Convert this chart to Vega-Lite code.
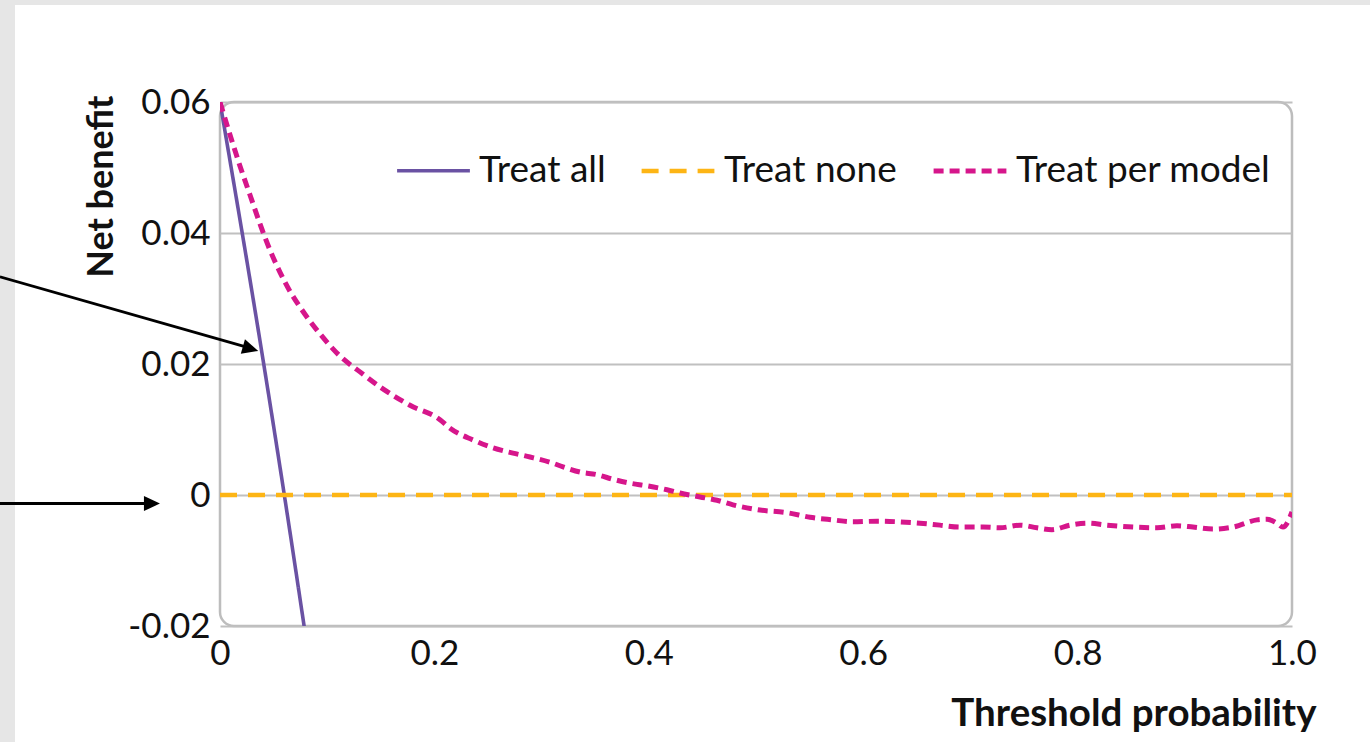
{
  "$schema": "https://vega.github.io/schema/vega-lite/v6.json",
  "width": 1072,
  "height": 524,
  "autosize": {"type": "none"},
  "padding": {"left": 220, "top": 102, "right": 78, "bottom": 116},
  "background": "white",
  "config": {
    "font": "Lato",
    "view": {"stroke": "#bdbdbd", "strokeWidth": 2.5, "cornerRadius": 14},
    "legend": {
      "orient": "none", "legendX": 175, "legendY": 30, "direction": "horizontal",
      "symbolType": "stroke", "symbolSize": 5300, "labelFontSize": 37, "labelFont": "Lato",
      "labelColor": "#111111", "labelOffset": 7, "columnPadding": 26, "labelLimit": 600, "padding": 0
    }
  },
  "datasets": {
    "series": [
      {"series": "Treat all", "p": 0, "nb": 0.06},
      {"series": "Treat all", "p": 0.04, "nb": 0.0208},
      {"series": "Treat all", "p": 0.06, "nb": 0},
      {"series": "Treat all", "p": 0.08, "nb": -0.0217},
      {"series": "Treat none", "p": 0, "nb": 0},
      {"series": "Treat none", "p": 1, "nb": 0},
      {"series": "Treat per model", "p": 0, "nb": 0.06},
      {"series": "Treat per model", "p": 0.0093, "nb": 0.055},
      {"series": "Treat per model", "p": 0.0187, "nb": 0.0502},
      {"series": "Treat per model", "p": 0.028, "nb": 0.0458},
      {"series": "Treat per model", "p": 0.0373, "nb": 0.0414},
      {"series": "Treat per model", "p": 0.0466, "nb": 0.0374},
      {"series": "Treat per model", "p": 0.056, "nb": 0.0340},
      {"series": "Treat per model", "p": 0.0653, "nb": 0.0311},
      {"series": "Treat per model", "p": 0.0746, "nb": 0.0287},
      {"series": "Treat per model", "p": 0.0933, "nb": 0.0246},
      {"series": "Treat per model", "p": 0.112, "nb": 0.0212},
      {"series": "Treat per model", "p": 0.1306, "nb": 0.0188},
      {"series": "Treat per model", "p": 0.1493, "nb": 0.0165},
      {"series": "Treat per model", "p": 0.1772, "nb": 0.0137},
      {"series": "Treat per model", "p": 0.2052, "nb": 0.0115},
      {"series": "Treat per model", "p": 0.2146, "nb": 0.0102},
      {"series": "Treat per model", "p": 0.236, "nb": 0.0084},
      {"series": "Treat per model", "p": 0.2547, "nb": 0.0072},
      {"series": "Treat per model", "p": 0.2733, "nb": 0.0064},
      {"series": "Treat per model", "p": 0.2892, "nb": 0.0058},
      {"series": "Treat per model", "p": 0.3078, "nb": 0.005},
      {"series": "Treat per model", "p": 0.32, "nb": 0.0043},
      {"series": "Treat per model", "p": 0.3358, "nb": 0.0035},
      {"series": "Treat per model", "p": 0.3517, "nb": 0.0031},
      {"series": "Treat per model", "p": 0.3666, "nb": 0.0024},
      {"series": "Treat per model", "p": 0.3825, "nb": 0.0018},
      {"series": "Treat per model", "p": 0.3983, "nb": 0.0014},
      {"series": "Treat per model", "p": 0.417, "nb": 0.0008},
      {"series": "Treat per model", "p": 0.4291, "nb": 0.0003},
      {"series": "Treat per model", "p": 0.4478, "nb": -0.0003},
      {"series": "Treat per model", "p": 0.4636, "nb": -0.0008},
      {"series": "Treat per model", "p": 0.4785, "nb": -0.0015},
      {"series": "Treat per model", "p": 0.5037, "nb": -0.0023},
      {"series": "Treat per model", "p": 0.5289, "nb": -0.0027},
      {"series": "Treat per model", "p": 0.5504, "nb": -0.0034},
      {"series": "Treat per model", "p": 0.5718, "nb": -0.0038},
      {"series": "Treat per model", "p": 0.5905, "nb": -0.0041},
      {"series": "Treat per model", "p": 0.6129, "nb": -0.004},
      {"series": "Treat per model", "p": 0.6343, "nb": -0.0041},
      {"series": "Treat per model", "p": 0.653, "nb": -0.0043},
      {"series": "Treat per model", "p": 0.6716, "nb": -0.0046},
      {"series": "Treat per model", "p": 0.6903, "nb": -0.0049},
      {"series": "Treat per model", "p": 0.7118, "nb": -0.0049},
      {"series": "Treat per model", "p": 0.7276, "nb": -0.005},
      {"series": "Treat per model", "p": 0.7463, "nb": -0.0046},
      {"series": "Treat per model", "p": 0.7621, "nb": -0.005},
      {"series": "Treat per model", "p": 0.7761, "nb": -0.0053},
      {"series": "Treat per model", "p": 0.7929, "nb": -0.0046},
      {"series": "Treat per model", "p": 0.8088, "nb": -0.0043},
      {"series": "Treat per model", "p": 0.8274, "nb": -0.0046},
      {"series": "Treat per model", "p": 0.8517, "nb": -0.0049},
      {"series": "Treat per model", "p": 0.8741, "nb": -0.005},
      {"series": "Treat per model", "p": 0.8927, "nb": -0.0047},
      {"series": "Treat per model", "p": 0.9076, "nb": -0.0049},
      {"series": "Treat per model", "p": 0.9263, "nb": -0.0052},
      {"series": "Treat per model", "p": 0.945, "nb": -0.0049},
      {"series": "Treat per model", "p": 0.9674, "nb": -0.0038},
      {"series": "Treat per model", "p": 0.9767, "nb": -0.0037},
      {"series": "Treat per model", "p": 0.986, "nb": -0.0043},
      {"series": "Treat per model", "p": 0.9916, "nb": -0.0049},
      {"series": "Treat per model", "p": 1.0, "nb": -0.0026}
    ],
    "one": [{}]
  },
  "layer": [
    {
      "data": {"name": "series"},
      "mark": {"type": "line", "clip": true, "interpolate": "monotone", "strokeCap": "butt"},
      "encoding": {
        "x": {
          "field": "p", "type": "quantitative",
          "scale": {"domain": [0, 1], "nice": false, "zero": false},
          "axis": {
            "title": "Threshold probability", "values": [0, 0.2, 0.4, 0.6, 0.8, 1],
            "labelExpr": "datum.value == 0 ? '0' : format(datum.value, '.1f')",
            "grid": false, "domain": false, "ticks": false,
            "labelFont": "Lato", "labelFontSize": 35, "labelColor": "#111111", "labelPadding": 10,
            "labelFlush": false,
            "titleFont": "Lato", "titleFontSize": 38.5, "titleFontWeight": "bold", "titleColor": "#111111",
            "titleAlign": "right", "titleBaseline": "alphabetic",
            "titleX": 1096, "titleY": 99
          }
        },
        "y": {
          "field": "nb", "type": "quantitative",
          "scale": {"domain": [-0.02, 0.06], "nice": false, "zero": false},
          "axis": {
            "title": "Net benefit", "values": [-0.02, 0, 0.02, 0.04, 0.06],
            "labelExpr": "datum.value == 0 ? '0' : (datum.value < 0 ? '-' + format(-datum.value, '.2f') : format(datum.value, '.2f'))",
            "grid": true, "gridColor": "#c0c0c0", "gridWidth": 2.2,
            "domain": false, "ticks": false,
            "labelFont": "Lato", "labelFontSize": 35, "labelColor": "#111111", "labelPadding": 10,
            "labelFlush": false,
            "titleFont": "Lato", "titleFontSize": 36, "titleFontWeight": "bold", "titleColor": "#111111",
            "titleAngle": -90, "titleAlign": "right", "titleBaseline": "middle",
            "titleX": -119, "titleY": -7
          }
        },
        "color": {
          "field": "series", "type": "nominal", "title": null,
          "scale": {"domain": ["Treat all", "Treat none", "Treat per model"], "range": ["#6a52a3", "#fdb515", "#d6168b"]}
        },
        "strokeDash": {
          "field": "series", "type": "nominal", "title": null,
          "scale": {"domain": ["Treat all", "Treat none", "Treat per model"], "range": [[1, 0], [17, 11], [10, 6]]}
        },
        "strokeWidth": {
          "field": "series", "type": "nominal", "title": null,
          "scale": {"domain": ["Treat all", "Treat none", "Treat per model"], "range": [3.6, 5, 5.5]}
        }
      }
    },
    {
      "data": {"name": "one"},
      "mark": {"type": "rect", "fill": "#e6e6e6", "clip": false},
      "encoding": {
        "x": {"datum": -0.2053, "type": "quantitative", "scale": {"domain": [0, 1], "nice": false, "zero": false}},
        "x2": {"datum": -0.1912},
        "y": {"datum": 0.0756, "type": "quantitative", "scale": {"domain": [-0.02, 0.06], "nice": false, "zero": false}},
        "y2": {"datum": -0.0378}
      }
    },
    {
      "data": {"name": "one"},
      "mark": {"type": "rect", "fill": "#e6e6e6", "clip": false},
      "encoding": {
        "x": {"datum": -0.2053, "type": "quantitative", "scale": {"domain": [0, 1], "nice": false, "zero": false}},
        "x2": {"datum": 1.0728},
        "y": {"datum": 0.0756, "type": "quantitative", "scale": {"domain": [-0.02, 0.06], "nice": false, "zero": false}},
        "y2": {"datum": 0.0748}
      }
    },
    {
      "data": {"name": "one"},
      "mark": {"type": "rule", "color": "black", "strokeWidth": 2.8, "clip": false},
      "encoding": {
        "x": {"datum": -0.2053, "type": "quantitative", "scale": {"domain": [0, 1], "nice": false, "zero": false}},
        "x2": {"datum": 0.0265},
        "y": {"datum": 0.0333, "type": "quantitative", "scale": {"domain": [-0.02, 0.06], "nice": false, "zero": false}},
        "y2": {"datum": 0.0225}
      }
    },
    {
      "data": {"name": "one"},
      "mark": {"type": "point", "shape": "M0,0L-1,-0.47L-1,0.47Z", "filled": true, "size": 1024, "angle": 16, "color": "black", "opacity": 1, "clip": false},
      "encoding": {
        "x": {"datum": 0.0357, "type": "quantitative", "scale": {"domain": [0, 1], "nice": false, "zero": false}},
        "y": {"datum": 0.0220, "type": "quantitative", "scale": {"domain": [-0.02, 0.06], "nice": false, "zero": false}}
      }
    },
    {
      "data": {"name": "one"},
      "mark": {"type": "rule", "color": "black", "strokeWidth": 2.8, "clip": false},
      "encoding": {
        "x": {"datum": -0.2053, "type": "quantitative", "scale": {"domain": [0, 1], "nice": false, "zero": false}},
        "x2": {"datum": -0.0653},
        "y": {"datum": -0.0013, "type": "quantitative", "scale": {"domain": [-0.02, 0.06], "nice": false, "zero": false}}
      }
    },
    {
      "data": {"name": "one"},
      "mark": {"type": "point", "shape": "M0,0L-1,-0.47L-1,0.47Z", "filled": true, "size": 1024, "angle": 0, "color": "black", "opacity": 1, "clip": false},
      "encoding": {
        "x": {"datum": -0.056, "type": "quantitative", "scale": {"domain": [0, 1], "nice": false, "zero": false}},
        "y": {"datum": -0.0013, "type": "quantitative", "scale": {"domain": [-0.02, 0.06], "nice": false, "zero": false}}
      }
    }
  ]
}
